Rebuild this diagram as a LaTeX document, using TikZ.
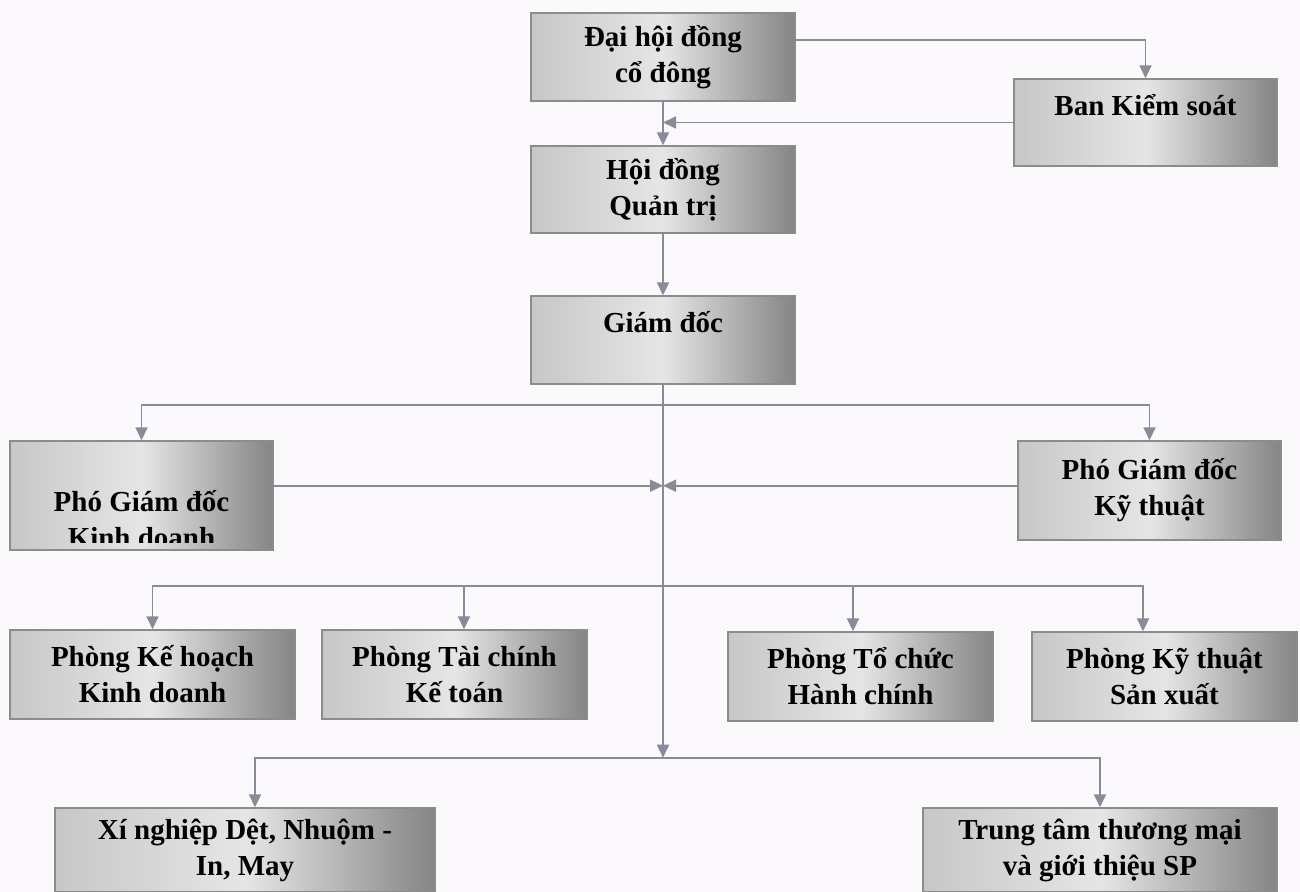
\documentclass[tikz,border=0pt]{standalone}
\usepackage{fontspec}
\setmainfont{Liberation Serif}
\usetikzlibrary{calc,arrows.meta}
\definecolor{fondo}{RGB}{252,249,252}
\definecolor{gris}{RGB}{138,138,152}
\newcommand{\textocaja}{\fontsize{16.5}{20.5}\selectfont\bfseries}

\begin{document}
\begin{tikzpicture}[
	caja/.style 2 args={draw=black!45, line width=0.8pt, left color=black!22, right color=black!48, middle color=black!10,
		minimum width=#1 cm, minimum height=#2 cm, inner sep=0pt, align=center, font=\textocaja},
	flecha/.style={draw=gris, line width=1pt, -{Triangle[length=0.26cm, width=0.24cm]}}
]
	% fondo ---------------------------------------------------------------------
	\fill[fondo] (0,0) rectangle (26,-17.84);
	\useasboundingbox (0,0) rectangle (26,-17.84);

	% cajas ---------------------------------------------------------------------
	\node[caja={5.28}{1.76}] (dhdcd) at (13.26,-1.14) {Đại hội đồng\\cổ đông};
	\node[caja={5.26}{1.74}] (bks) at (22.91,-2.45) {Ban Kiểm soát\\\mbox{}};
	\node[caja={5.28}{1.74}] (hdqt) at (13.26,-3.79) {Hội đồng\\Quản trị};
	\node[caja={5.28}{1.76}] (gd) at (13.26,-6.8) {Giám đốc\\\mbox{}};
	\node[caja={5.26}{2.18}] (pgdkd) at (2.83,-9.91) {};
	\node[caja={5.26}{1.98}] (pgdkt) at (22.99,-9.81) {Phó Giám đốc\\Kỹ thuật};
	\node[caja={5.7}{1.78}] (pkhkd) at (3.05,-13.49) {Phòng Kế hoạch\\Kinh doanh};
	\node[caja={5.3}{1.78}] (ptckt) at (9.09,-13.49) {Phòng Tài chính\\Kế toán};
	\node[caja={5.3}{1.78}] (ptchc) at (17.21,-13.53) {Phòng Tổ chức\\Hành chính};
	\node[caja={5.3}{1.78}] (pktsx) at (23.29,-13.53) {Phòng Kỹ thuật\\Sản xuất};
	\node[caja={7.6}{1.68}] (xn) at (4.9,-17.0) {Xí nghiệp Dệt, Nhuộm -\\In, May};
	\node[caja={7.08}{1.68}] (ttm) at (22.0,-17.0) {Trung tâm thương mại\\và giới thiệu SP};

	\begin{scope}
		\clip ($(pgdkd.south west)+(0,0.17)$) rectangle (pgdkd.north east); % texto cortado abajo
		\node[align=center, font=\textocaja] (pgdkdtxt) at ($(pgdkd.center)+(0,-0.47)$) {Phó Giám đốc\\Kinh doanh};
	\end{scope}

	% puntos de bifurcacion -----------------------------------------------------
	\coordinate (r1) at ($(dhdcd.east)+(0,0.34)$);
	\coordinate (b1) at ($(gd.south)+(0,-0.4)$);
	\coordinate (m1) at ($(gd.south)+(0,-2.02)$);
	\coordinate (b2) at ($(gd.south)+(0,-4.02)$);
	\coordinate (b3) at ($(gd.south)+(0,-7.46)$);

	% conectores ----------------------------------------------------------------
	\draw[flecha] (r1) -| (bks.north);
	\draw[flecha] (bks.west) -- (bks.west -| dhdcd.south);
	\draw[flecha] (dhdcd.south) -- (hdqt.north);
	\draw[flecha] (hdqt.south) -- (gd.north);
	\draw[flecha] (gd.south) -- (b3); % linea central

	\draw[flecha] (b1) -| (pgdkd.north);
	\draw[flecha] (b1) -| (pgdkt.north);
	\draw[flecha] (m1 -| pgdkd.east) -- (m1);
	\draw[flecha] (m1 -| pgdkt.west) -- (m1);

	\draw[flecha] (b2) -| (pkhkd.north);
	\draw[flecha] (b2) -| ($(ptckt.north)+(0.19,0)$);
	\draw[flecha] (b2) -| ($(ptchc.north)+(-0.15,0)$);
	\draw[flecha] (b2) -| ($(pktsx.north)+(-0.43,0)$);

	\draw[flecha] (b3) -| ($(xn.north)+(0.2,0)$);
	\draw[flecha] (b3) -| (ttm.north);
\end{tikzpicture}
\end{document}
